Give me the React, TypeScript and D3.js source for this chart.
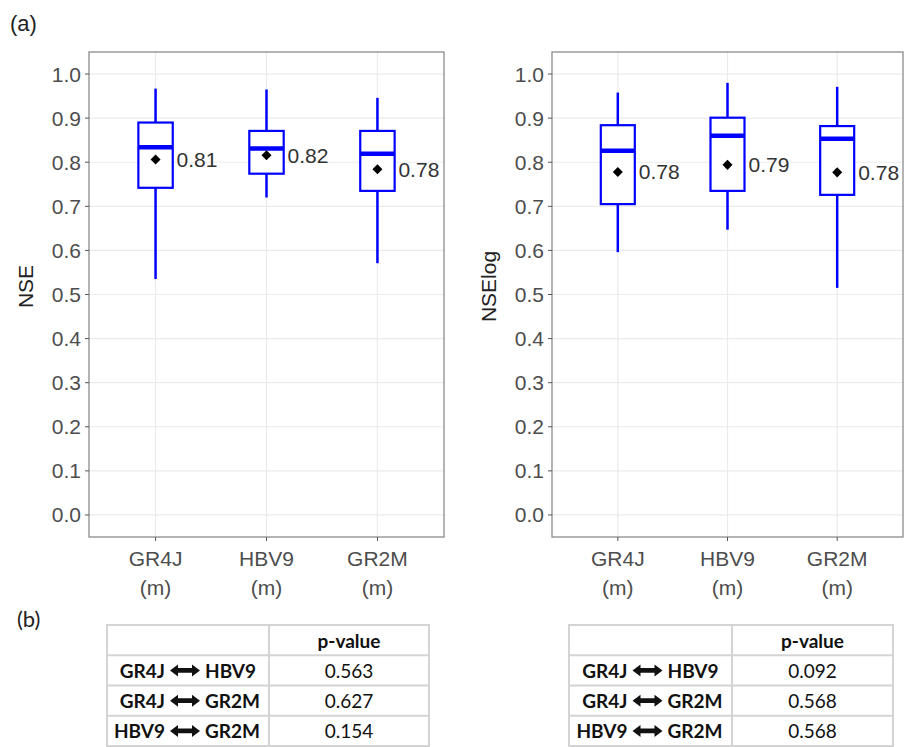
import React from 'react';
import * as d3 from 'd3';

const MODELS = ['GR4J', 'HBV9', 'GR2M'];
const Y_TICKS = [0, 0.1, 0.2, 0.3, 0.4, 0.5, 0.6, 0.7, 0.8, 0.9, 1.0];

// NSE panel (left)
const nseLow = [0.535, 0.72, 0.571];
const nseQ1 = [0.742, 0.774, 0.735];
const nseMedian = [0.834, 0.831, 0.819];
const nseQ3 = [0.89, 0.871, 0.871];
const nseHigh = [0.967, 0.965, 0.946];
const nseMean = [0.806, 0.816, 0.784];
const nseMeanLabels = ['0.81', '0.82', '0.78'];

// NSElog panel (right)
const logLow = [0.596, 0.647, 0.515];
const logQ1 = [0.705, 0.735, 0.726];
const logMedian = [0.826, 0.86, 0.853];
const logQ3 = [0.884, 0.901, 0.882];
const logHigh = [0.958, 0.98, 0.971];
const logMean = [0.778, 0.794, 0.777];
const logMeanLabels = ['0.78', '0.79', '0.78'];

// p-value tables
const PAIRS = [['GR4J', 'HBV9'], ['GR4J', 'GR2M'], ['HBV9', 'GR2M']];
const pNse = ['0.563', '0.627', '0.154'];
const pLog = ['0.092', '0.568', '0.568'];

const BLUE = '#0000ff';
const AXIS_FONT = '"Liberation Sans", Arial, sans-serif';
const TABLE_FONT = 'Lato, "Open Sans", sans-serif';

const yScale = d3.scaleLinear().domain([-0.05, 1.05]).range([537, 52]);

function Panel({ left, right, title, low, q1, med, q3, high, mean, labels }) {
  const x = d3.scalePoint().domain(MODELS).range([left, right]).padding(0.6);
  const step = x.step();
  const boxW = step * 0.31;
  const top = yScale.range()[1];
  const bottom = yScale.range()[0];
  const diamond = d3.symbol().type(d3.symbolDiamond2).size(64)();
  return (
    <g>
      <rect x={left} y={top} width={right - left} height={bottom - top} fill="#fff" />
      {Y_TICKS.map(t => (
        <line key={'gy' + t} x1={left} x2={right} y1={yScale(t)} y2={yScale(t)} stroke="#ebebeb" strokeWidth={1.2} />
      ))}
      {MODELS.map(m => (
        <line key={'gx' + m} x1={x(m)} x2={x(m)} y1={top} y2={bottom} stroke="#ebebeb" strokeWidth={1.2} />
      ))}
      {MODELS.map((m, i) => {
        const cx = x(m);
        return (
          <g key={m}>
            <line x1={cx} x2={cx} y1={yScale(high[i])} y2={yScale(q3[i])} stroke={BLUE} strokeWidth={2.5} />
            <line x1={cx} x2={cx} y1={yScale(q1[i])} y2={yScale(low[i])} stroke={BLUE} strokeWidth={2.5} />
            <rect x={cx - boxW / 2} y={yScale(q3[i])} width={boxW} height={yScale(q1[i]) - yScale(q3[i])}
              fill="#fff" stroke={BLUE} strokeWidth={2.2} />
            <line x1={cx - boxW / 2} x2={cx + boxW / 2} y1={yScale(med[i])} y2={yScale(med[i])} stroke={BLUE} strokeWidth={4.5} />
            <path d={diamond} transform={`translate(${cx},${yScale(mean[i])})`} fill="#000" />
            <text x={cx + 21} y={yScale(mean[i])} dominantBaseline="central" fontFamily={AXIS_FONT}
              fontSize={21} fill="#333">{labels[i]}</text>
          </g>
        );
      })}
      <rect x={left} y={top} width={right - left} height={bottom - top} fill="none" stroke="#8c8c8c" strokeWidth={1.3} />
      {Y_TICKS.map(t => (
        <g key={'ty' + t}>
          <line x1={left - 4} x2={left} y1={yScale(t)} y2={yScale(t)} stroke="#555" strokeWidth={1} />
          <text x={left - 8} y={yScale(t)} textAnchor="end" dominantBaseline="central" fontFamily={AXIS_FONT}
            fontSize={21} fill="#4d4d4d">{d3.format('.1f')(t)}</text>
        </g>
      ))}
      {MODELS.map(m => (
        <g key={'tx' + m}>
          <line x1={x(m)} x2={x(m)} y1={bottom} y2={bottom + 4} stroke="#555" strokeWidth={1} />
          <text x={x(m)} y={558} textAnchor="middle" dominantBaseline="central" fontFamily={AXIS_FONT}
            fontSize={21} fill="#4d4d4d">{m}</text>
          <text x={x(m)} y={587} textAnchor="middle" dominantBaseline="central" fontFamily={AXIS_FONT}
            fontSize={21} fill="#4d4d4d">(m)</text>
        </g>
      ))}
      <text transform={`translate(${left - 64},${(top + bottom) / 2 - 8}) rotate(-90)`} textAnchor="middle"
        dominantBaseline="central" fontFamily={AXIS_FONT} fontSize={21} fill="#222">{title}</text>
    </g>
  );
}

function Arrow({ cx, cy }) {
  const d = 'M-15,0 L-7,-6 L-7,-2.4 L7,-2.4 L7,-6 L15,0 L7,6 L7,2.4 L-7,2.4 L-7,6 Z';
  return <path d={d} transform={`translate(${cx},${cy})`} fill="#111" />;
}

function PTable({ left, split, right, values }) {
  const rows = d3.scaleBand().domain(['head', '0', '1', '2']).range([625, 746]);
  const colL = (left + split) / 2 - 3;
  const colR = (split + right) / 2;
  const lineColor = '#d4d4d4';
  return (
    <g fontFamily={TABLE_FONT} fontSize={19} fill="#111">
      <rect x={left} y={625} width={right - left} height={121} fill="#fff" stroke={lineColor} strokeWidth={2} />
      {['0', '1', '2'].map(r => (
        <line key={r} x1={left} x2={right} y1={rows(r)} y2={rows(r)} stroke={lineColor} strokeWidth={2} />
      ))}
      <line x1={split} x2={split} y1={625} y2={746} stroke={lineColor} strokeWidth={2} />
      <text x={colR} y={rows('head') + rows.bandwidth() / 2} textAnchor="middle" dominantBaseline="central"
        fontWeight="bold">p-value</text>
      {PAIRS.map((p, i) => {
        const cy = rows(String(i)) + rows.bandwidth() / 2;
        return (
          <g key={i}>
            <text x={colL - 20} y={cy} textAnchor="end" dominantBaseline="central" fontWeight="bold">{p[0]}</text>
            <Arrow cx={colL} cy={cy} />
            <text x={colL + 20} y={cy} textAnchor="start" dominantBaseline="central" fontWeight="bold">{p[1]}</text>
            <text x={colR} y={cy} textAnchor="middle" dominantBaseline="central">{values[i]}</text>
          </g>
        );
      })}
    </g>
  );
}

export default function App() {
  return (
    <div style={{ position: 'absolute', left: 0, top: 0 }}>
      <svg width={905} height={747} style={{ display: 'block', background: '#fff' }}>
        <text x={10} y={23} dominantBaseline="central" fontFamily={AXIS_FONT} fontSize={22} fill="#222">(a)</text>
        <Panel left={89} right={444} title="NSE" low={nseLow} q1={nseQ1} med={nseMedian} q3={nseQ3}
          high={nseHigh} mean={nseMean} labels={nseMeanLabels} />
        <Panel left={552} right={903} title="NSElog" low={logLow} q1={logQ1} med={logMedian} q3={logQ3}
          high={logHigh} mean={logMean} labels={logMeanLabels} />
        <text x={17} y={618} dominantBaseline="central" fontFamily={TABLE_FONT} fontSize={22} fill="#222">(b)</text>
        <PTable left={107} split={269} right={429} values={pNse} />
        <PTable left={569} split={732} right={893} values={pLog} />
      </svg>
    </div>
  );
}
